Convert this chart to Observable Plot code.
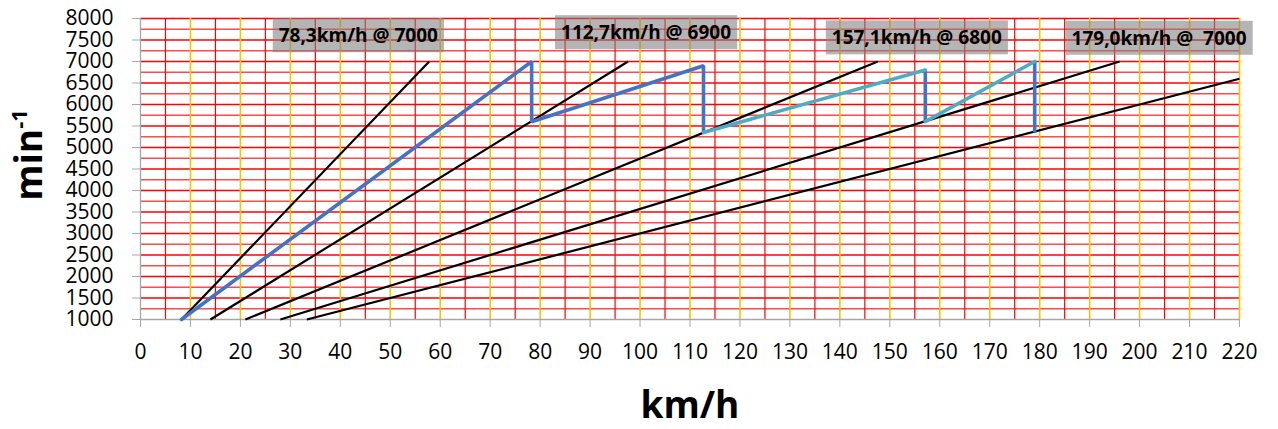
<!DOCTYPE html>
<html><head><meta charset="utf-8">
<script src="https://cdn.jsdelivr.net/npm/d3@7"></script>
<script src="https://cdn.jsdelivr.net/npm/@observablehq/plot@0.6"></script>
<style>
body{margin:0;background:#fff;}
#chart svg{display:block;font-family:"Open Sans",sans-serif;}
</style>
</head><body><div id="chart"></div>
<script>
// ---- data ----
const xTickValues = [0,10,20,30,40,50,60,70,80,90,100,110,120,130,140,150,160,170,180,190,200,210,220];
const yTickValues = [1000,1500,2000,2500,3000,3500,4000,4500,5000,5500,6000,6500,7000,7500,8000];

// gear lines (km/h at start rpm -> km/h at end rpm)
const gearStartSpeed = [8.2, 14.0, 21.0, 28.0, 33.3];
const gearStartRpm   = [1000, 1000, 1000, 1000, 1000];
const gearEndSpeed   = [57.8, 97.6, 147.6, 196.0, 220.0];
const gearEndRpm     = [7000, 7000, 7000, 7000, 6600];

// acceleration trace, blue part
const accelSpeed = [8.2, 78.3, 78.3, 112.7, 112.7];
const accelRpm   = [1000, 7000, 5600, 6900, 5350];
// acceleration trace, light blue ramps
const rampGear   = [3, 3, 4, 4];
const rampSpeed  = [112.7, 157.1, 157.1, 179.0];
const rampRpm    = [5350, 6800, 5600, 7000];
// shift drops (blue verticals)
const dropSpeed   = [157.1, 179.0];
const dropFromRpm = [6800, 7000];
const dropToRpm   = [5600, 5350];

// shift labels
const shiftLabels = ["78,3km/h @ 7000", "112,7km/h @ 6900", "157,1km/h @ 6800", "179,0km/h @  7000"];
const labelSpeed  = [43.6, 101.2, 155.4, 203.9];
const labelRpm    = [7590, 7660, 7540, 7530];

const xLabel = "km/h";
const yLabel = "min";
const yLabelSup = "-1";

// ---- derived tables ----
const gears = gearStartSpeed.map((s, i) => ({x1: s, y1: gearStartRpm[i], x2: gearEndSpeed[i], y2: gearEndRpm[i]}));
const accel = accelSpeed.map((s, i) => ({x: s, y: accelRpm[i]}));
const ramps = rampSpeed.map((s, i) => ({x: s, y: rampRpm[i], g: rampGear[i]}));
const drops = dropSpeed.map((s, i) => ({x: s, y1: dropFromRpm[i], y2: dropToRpm[i]}));
const labels = shiftLabels.map((t, i) => ({t, x: labelSpeed[i], y: labelRpm[i]}));

const minorX = d3.range(5, 220, 10);
const majorX = xTickValues.filter(v => v > 0);
const minorY = d3.range(1250, 8000, 500);
const majorY = yTickValues.filter(v => v > 1000);

const plot = Plot.plot({
  width: 1278, height: 429,
  marginLeft: 140, marginRight: 39, marginTop: 18, marginBottom: 110,
  x: {domain: [0, 220]},
  y: {domain: [1000, 8000]},
  style: {fontFamily: "Open Sans", fontSize: "21px", color: "#000", background: "#fff"},
  marks: [
    Plot.ruleY(minorY, {stroke: "#ff4b4b", strokeWidth: 1.3}),
    Plot.ruleY(majorY, {stroke: "#ff0000", strokeWidth: 1.3}),
    Plot.ruleX(minorX, {stroke: "#ff0000", strokeWidth: 1.2}),
    Plot.ruleX(majorX, {stroke: "#ffc000", strokeWidth: 1.6}),
    Plot.ruleY([1000], {stroke: "#a6a6a6", strokeWidth: 1.3}),
    Plot.ruleX([0], {stroke: "#a6a6a6", strokeWidth: 1.3}),
    Plot.axisX({ticks: xTickValues, tickSize: 8, tickPadding: 17, label: null, stroke: "#a6a6a6", fill: "#000", fontSize: 21}),
    Plot.axisY({ticks: yTickValues, tickSize: 8, tickPadding: 19, label: null, stroke: "#a6a6a6", fill: "#000", fontSize: 21, tickFormat: d => String(d)}),
    Plot.link(gears, {x1: "x1", y1: "y1", x2: "x2", y2: "y2", stroke: "#000", strokeWidth: 2.2}),
    Plot.line(accel, {x: "x", y: "y", stroke: "#4472c4", strokeWidth: 3.6, strokeLinejoin: "miter"}),
    Plot.link(drops, {x1: "x", x2: "x", y1: "y1", y2: "y2", stroke: "#4472c4", strokeWidth: 3.6}),
    Plot.line(ramps, {x: "x", y: "y", z: "g", stroke: "#4bacc6", strokeWidth: 3.6, strokeLinecap: "round"}),
    Plot.text(labels, {x: "x", y: "y", text: "t", fontWeight: "bold", fontSize: 19, fill: "#000"}),
    Plot.text([xLabel], {frameAnchor: "bottom", dy: 98, lineAnchor: "bottom", fontWeight: "bold", fontSize: 37, fill: "#000"})
  ]
});
document.getElementById("chart").appendChild(plot);

// gray boxes behind the shift labels, sized from the text
const svg = d3.select(plot);
svg.selectAll("text")
  .filter(function() { return shiftLabels.includes(this.textContent); })
  .each(function() {
    const b = this.getBBox();
    const cy = b.y + b.height / 2;
    const r = d3.select(this.parentNode).insert("rect", () => this)
      .attr("x", b.x - 6).attr("width", b.width + 12)
      .attr("y", cy - 17).attr("height", 34)
      .attr("fill", "#7f7f7f").attr("fill-opacity", 0.58);
    const tr = this.getAttribute("transform");
    if (tr) r.attr("transform", tr);
  });

// rotated y label with superscript
const yl = svg.append("text")
  .attr("transform", "translate(42,155) rotate(-90)")
  .attr("text-anchor", "middle")
  .attr("font-family", "Open Sans")
  .attr("font-weight", "bold")
  .attr("font-size", 37)
  .attr("fill", "#000");
yl.append("tspan").text(yLabel);
yl.append("tspan").attr("dy", -15).attr("font-size", 22).text(yLabelSup);
</script>
</body></html>
